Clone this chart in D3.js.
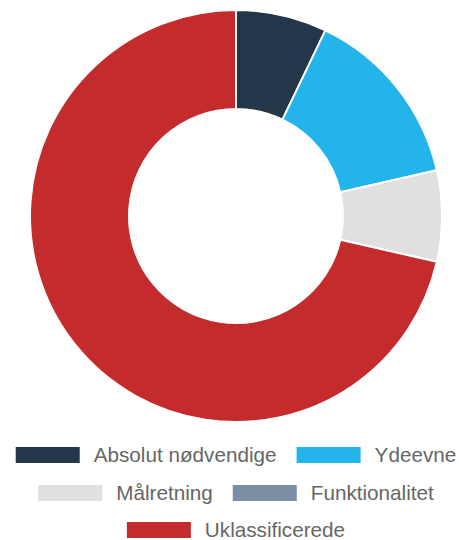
<!DOCTYPE html>
<html>
<head>
<meta charset="utf-8">
<script src="https://cdn.jsdelivr.net/npm/d3@7"></script>
<style>
  html, body { margin: 0; padding: 0; background: #fff; }
  svg { display: block; }
</style>
</head>
<body>
<svg id="chart" width="459" height="540"></svg>
<script>
const categories = ["Absolut nødvendige", "Ydeevne", "Målretning", "Funktionalitet", "Uklassificerede"];
const values = [2, 4, 2, 0, 20];
const colors = ["#24364a", "#23b4ec", "#e0e0e0", "#7a8fa4", "#c42b2c"];

const svg = d3.select("#chart");
const cx = 236, cy = 216, outerR = 206, innerR = 107;

const pie = d3.pie().sort(null).value(d => d)(values);
const arc = d3.arc().innerRadius(innerR).outerRadius(outerR);

svg.append("g")
  .attr("transform", `translate(${cx},${cy})`)
  .selectAll("path")
  .data(pie)
  .join("path")
  .attr("d", arc)
  .attr("fill", (d, i) => colors[i])
  .attr("stroke", "#fff")
  .attr("stroke-width", 2)
  .attr("stroke-linejoin", "bevel");

// Legend
const fontSize = 20.7, boxW = 64, boxH = 16, boxGap = 14, itemGap = 20;
const rowY = [455, 493, 530];
const maxW = 452;
const legend = svg.append("g").attr("font-family", "'Liberation Sans', Arial, Helvetica, sans-serif")
  .attr("font-size", fontSize).attr("fill", "#666");

const measure = legend.append("text").attr("visibility", "hidden");
const items = categories.map((c, i) => {
  measure.text(c);
  const tw = measure.node().getComputedTextLength();
  return { label: c, color: colors[i], w: boxW + boxGap + tw };
});
measure.remove();

const rows = [];
let cur = [], curW = 0;
items.forEach(it => {
  const add = cur.length ? itemGap + it.w : it.w;
  if (cur.length && curW + add > maxW) { rows.push(cur); cur = [it]; curW = it.w; }
  else { cur.push(it); curW += add; }
});
if (cur.length) rows.push(cur);

rows.forEach((row, r) => {
  const total = row.reduce((s, it) => s + it.w, 0) + itemGap * (row.length - 1);
  let x = cx - total / 2;
  const y = rowY[r];
  row.forEach(it => {
    legend.append("rect").attr("x", x).attr("y", y - boxH / 2)
      .attr("width", boxW).attr("height", boxH).attr("fill", it.color);
    legend.append("text").attr("x", x + boxW + boxGap).attr("y", y + 7).text(it.label);
    x += it.w + itemGap;
  });
});
</script>
</body>
</html>
